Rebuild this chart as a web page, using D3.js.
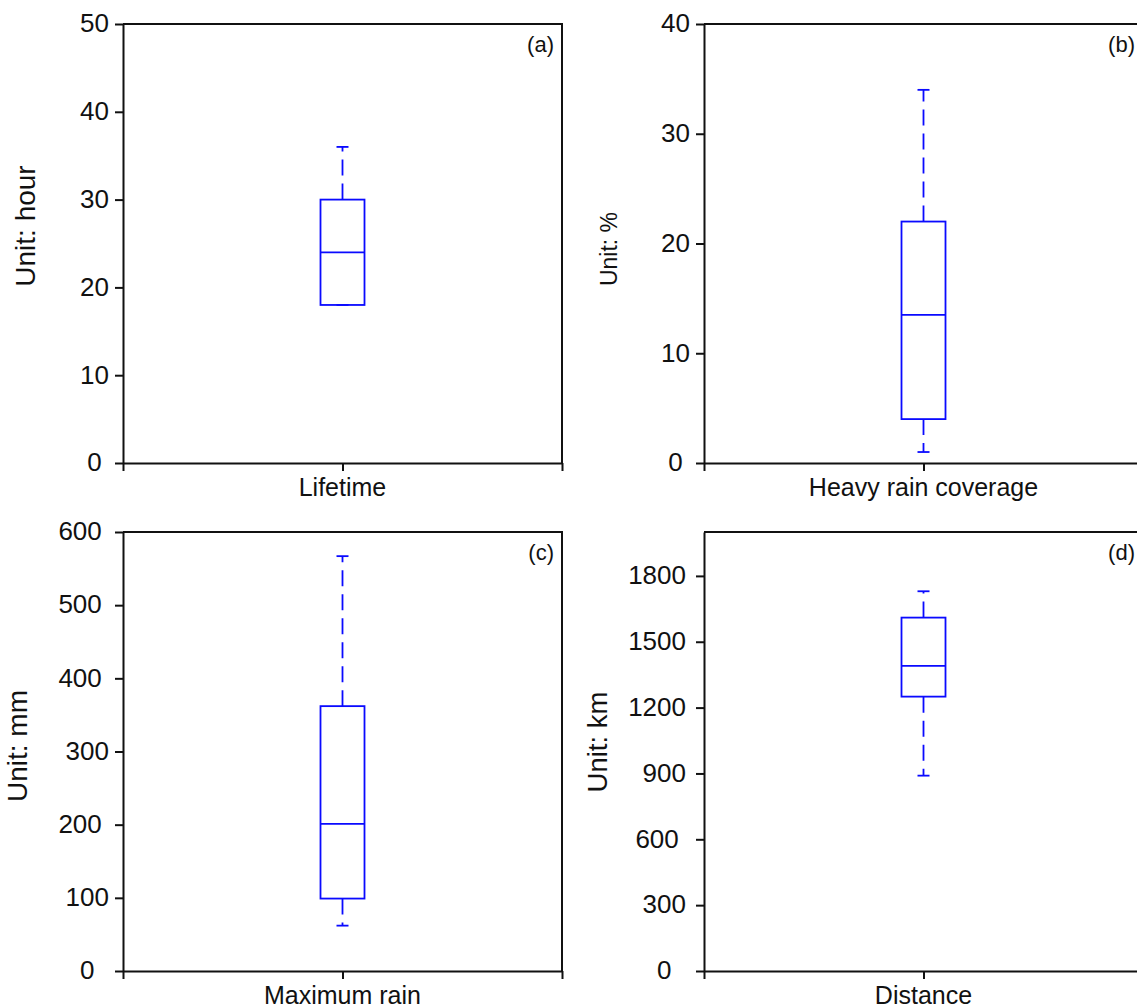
<!DOCTYPE html>
<html>
<head>
<meta charset="utf-8">
<script src="https://cdn.jsdelivr.net/npm/d3@7"></script>
<style>
  body { margin: 0; background: #fff; }
  svg { display: block; font-family: "Liberation Sans", Arial, sans-serif; }
  .axis path, .axis line { stroke: #111; stroke-width: 2; }
  .axis text { fill: #111; font-size: 26px; }
</style>
</head>
<body>
<svg id="chart" width="1137" height="1008"></svg>
<script>

// box plot statistics, one entry per panel
const categories = ["Lifetime", "Heavy rain coverage", "Maximum rain", "Distance"];
const unitLabels = ["Unit: hour", "Unit: %", "Unit: mm", "Unit: km"];
const panelTags = ["(a)", "(b)", "(c)", "(d)"];
const whiskerLow = [18, 1, 62, 890];
const q1 = [18, 4, 99, 1250];
const median = [24, 13.5, 201, 1390];
const q3 = [30, 22, 362, 1610];
const whiskerHigh = [36, 34, 567, 1730];
const yMax = [50, 40, 600, 2000];
const yTicks = [
  [0, 10, 20, 30, 40, 50],
  [0, 10, 20, 30, 40],
  [0, 100, 200, 300, 400, 500, 600],
  [0, 300, 600, 900, 1200, 1500, 1800]
];
// the original labels are not all flush right; the padding keeps that
const nb = "\u00a0";
const yTickLabels = [
  ["0" + nb, "10", "20", "30", "40", "50"],
  ["0" + nb, "10", "20", "30", "40"],
  ["0" + nb + nb, "100", "200" + nb, "300", "400" + nb, "500" + nb, "600" + nb],
  ["0" + nb + nb, "300", "600" + nb, "900", "1200", "1500", "1800"]
];

// layout of the four panels (pixels)
const plotSize = 439;
const layout = [
  { left: 123, top: 24, pad: 6, labX: -88, labY: 202, labSize: 28 },
  { left: 704, top: 24, pad: 6, labX: -87, labY: 225, labSize: 23 },
  { left: 123, top: 532, pad: 6, labX: -96, labY: 214, labSize: 28 },
  { left: 704, top: 532, pad: 10, labX: -97, labY: 210, labSize: 27.5 }
];

const boxColor = "#0a0aff";
const boxWidth = 44;
const capWidth = 12;

const svg = d3.select("#chart");

function drawPanel(i) {
  const L = layout[i];
  const g = svg.append("g")
    .attr("transform", "translate(" + L.left + "," + L.top + ")");

  const y = d3.scaleLinear().domain([0, yMax[i]]).range([plotSize, 0]);
  const x = d3.scaleLinear().domain([0, 2]).range([0, plotSize]);

  // frame (top and right sides)
  g.append("path")
    .attr("d", "M0,0H" + plotSize + "V" + plotSize)
    .attr("fill", "none")
    .attr("stroke", "#111")
    .attr("stroke-width", 2);

  const yAxis = d3.axisLeft(y)
    .tickValues(yTicks[i])
    .tickFormat((d, k) => yTickLabels[i][k])
    .tickSize(8)
    .tickPadding(L.pad)
    .tickSizeOuter(0);

  g.append("g")
    .attr("class", "axis")
    .call(yAxis)
    .selectAll("text")
    .attr("dy", "0.3em");

  const xAxis = d3.axisBottom(x)
    .tickValues([0, 1, 2])
    .tickFormat("")
    .tickSize(8)
    .tickSizeOuter(0);

  g.append("g")
    .attr("class", "axis")
    .attr("transform", "translate(0," + plotSize + ")")
    .call(xAxis);

  // category label under the middle tick
  g.append("text")
    .attr("x", x(1))
    .attr("y", plotSize + 33)
    .attr("text-anchor", "middle")
    .style("font-size", "25px")
    .attr("fill", "#111")
    .text(categories[i]);

  // unit label
  g.append("text")
    .attr("transform", "translate(" + L.labX + "," + L.labY + ") rotate(-90)")
    .attr("text-anchor", "middle")
    .style("font-size", L.labSize + "px")
    .attr("fill", "#111")
    .text(unitLabels[i]);

  // panel tag
  g.append("text")
    .attr("x", plotSize - 8)
    .attr("y", 28)
    .attr("text-anchor", "end")
    .style("font-size", "22px")
    .attr("fill", "#111")
    .text(panelTags[i]);

  // box plot
  const cx = x(1);
  const box = g.append("g")
    .attr("stroke", boxColor)
    .attr("stroke-width", 1.8)
    .attr("fill", "none");

  // whiskers, dashed from the box outwards
  box.append("line")
    .attr("x1", cx).attr("x2", cx)
    .attr("y1", y(q3[i])).attr("y2", y(whiskerHigh[i]))
    .attr("stroke-dasharray", "16,8");
  box.append("line")
    .attr("x1", cx).attr("x2", cx)
    .attr("y1", y(q1[i])).attr("y2", y(whiskerLow[i]))
    .attr("stroke-dasharray", "16,8");

  // caps
  [whiskerLow[i], whiskerHigh[i]].forEach(v => {
    box.append("line")
      .attr("x1", cx - capWidth / 2).attr("x2", cx + capWidth / 2)
      .attr("y1", y(v)).attr("y2", y(v));
  });

  box.append("rect")
    .attr("x", cx - boxWidth / 2)
    .attr("y", y(q3[i]))
    .attr("width", boxWidth)
    .attr("height", y(q1[i]) - y(q3[i]));

  box.append("line")
    .attr("x1", cx - boxWidth / 2).attr("x2", cx + boxWidth / 2)
    .attr("y1", y(median[i])).attr("y2", y(median[i]));
}

categories.forEach((c, i) => drawPanel(i));

</script>
</body>
</html>
